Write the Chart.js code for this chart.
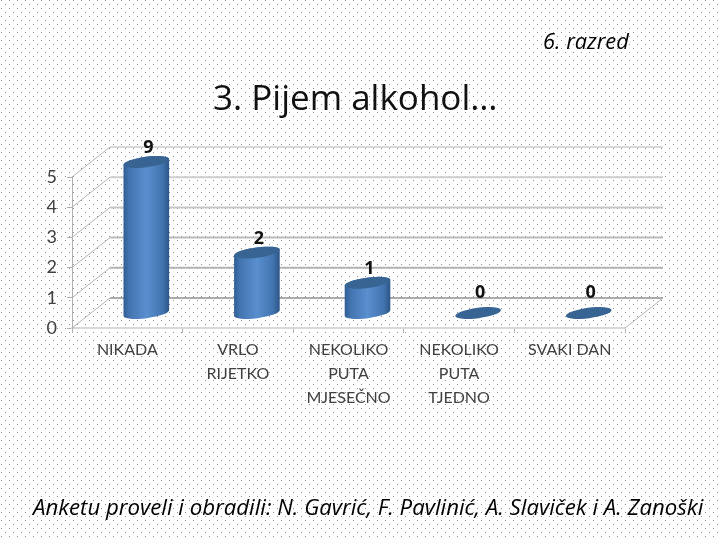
<!DOCTYPE html>
<html>
<head>
<meta charset="utf-8">
<style>
html,body{margin:0;padding:0;width:720px;height:540px;overflow:hidden;background-color:#fff;}
#wrap{position:relative;width:720px;height:540px;}
canvas{position:absolute;left:0;top:0;}
.t{position:absolute;white-space:nowrap;color:#000;font-family:"Open Sans",sans-serif;line-height:1;}
#title{left:213px;top:79px;font-size:35px;color:#111;}
#grade{left:543px;top:30px;font-size:21.8px;font-style:italic;}
#foot{left:33px;top:496px;font-size:22.2px;font-style:italic;}
</style>
<script src="https://cdn.jsdelivr.net/npm/chart.js@4"></script>
</head>
<body>
<div id="wrap">
<canvas id="c" width="720" height="540"></canvas>
<div class="t" id="grade">6. razred</div>
<div class="t" id="title">3. Pijem alkohol…</div>
<div class="t" id="foot">Anketu proveli i obradili: N. Gavrić, F. Pavlinić, A. Slaviček i A. Zanoški</div>
</div>
<script>
const categories = [
  ["NIKADA"],
  ["VRLO", "RIJETKO"],
  ["NEKOLIKO", "PUTA", "MJESEČNO"],
  ["NEKOLIKO", "PUTA", "TJEDNO"],
  ["SVAKI DAN"]
];
const answers = [9, 2, 1, 0, 0];
const yTicks = [0, 1, 2, 3, 4, 5];

// dotted slide background
(function () {
  const p = document.createElement('canvas');
  p.width = 8; p.height = 8;
  const g = p.getContext('2d');
  g.fillStyle = '#fff'; g.fillRect(0, 0, 8, 8);
  g.fillStyle = '#8c8c8c';
  g.fillRect(1, 0, 1, 1);
  g.fillRect(5, 4, 1, 1);
  document.body.style.backgroundImage = 'url(' + p.toDataURL() + ')';
})();

const DX = 38, DY = -30;

const wall3d = {
  id: 'wall3d',
  beforeDatasetsDraw(chart) {
    const { ctx, scales: { x, y } } = chart;
    const L = x.left, R = x.right;
    ctx.save();
    yTicks.forEach(v => {
      const py = y.getPixelForValue(v);
      const f = v / 5;
      const shade = Math.round(170 + f * 46);
      ctx.strokeStyle = `rgb(${shade},${shade},${shade})`;
      ctx.lineWidth = 2;
      ctx.beginPath();
      ctx.moveTo(L + DX, py + DY);
      ctx.lineTo(R + DX, py + DY);
      ctx.stroke();
      ctx.strokeStyle = '#b4b4b4';
      ctx.lineWidth = 1;
      ctx.beginPath();
      ctx.moveTo(L, py);
      ctx.lineTo(L + DX, py + DY);
      ctx.stroke();
    });
    const p0 = y.getPixelForValue(0);
    ctx.beginPath();
    ctx.moveTo(R, p0);
    ctx.lineTo(R + DX, p0 + DY);
    ctx.stroke();
    ctx.restore();
  },
  beforeDatasetDraw(chart, args) {
    const { ctx, scales: { y } } = chart;
    const meta = args.meta;
    const vals = chart.data.datasets[args.index].data;
    const rot = -7.5 * Math.PI / 180;
    const ry = 5.2;
    ctx.save();
    meta.data.forEach((el, i) => {
      const rx = el.width / 2;
      const cx = el.x + DX / 2;
      const bot = y.getPixelForValue(0) + DY / 2;
      const top = y.getPixelForValue(Math.min(vals[i], y.max)) + DY / 2;
      if (top < bot - 0.5) {
        const g = ctx.createLinearGradient(cx - rx, 0, cx + rx, 0);
        g.addColorStop(0, '#2f5c92');
        g.addColorStop(0.12, '#4173ae');
        g.addColorStop(0.5, '#5a8fd0');
        g.addColorStop(0.85, '#4174ae');
        g.addColorStop(1, '#2c5486');
        ctx.fillStyle = g;
        ctx.beginPath();
        ctx.ellipse(cx, bot, rx, ry, rot, 0, Math.PI);
        ctx.ellipse(cx, top, rx, ry, rot, Math.PI, 2 * Math.PI);
        ctx.closePath();
        ctx.fill();
      }
      ctx.fillStyle = '#376493';
      ctx.beginPath();
      ctx.ellipse(cx, top, rx, ry, rot, 0, 2 * Math.PI);
      ctx.fill();
    });
    ctx.restore();
    return false;
  },
  afterDatasetsDraw(chart) {
    const { ctx, scales: { y } } = chart;
    const meta = chart.getDatasetMeta(0);
    const vals = chart.data.datasets[0].data;
    ctx.save();
    ctx.font = 'bold 18px "Open Sans", sans-serif';
    ctx.fillStyle = '#111';
    ctx.textAlign = 'center';
    ctx.textBaseline = 'middle';
    meta.data.forEach((el, i) => {
      const top = y.getPixelForValue(Math.min(vals[i], y.max)) + DY / 2;
      ctx.fillText(String(vals[i]), el.x + DX / 2 + 2, top - (vals[i] === 0 ? 20 : 14));
    });
    ctx.restore();
  }
};

new Chart(document.getElementById('c'), {
  type: 'bar',
  data: {
    labels: categories,
    datasets: [{
      label: '3. Pijem alkohol…',
      data: answers,
      backgroundColor: '#4f81bd',
      barPercentage: 0.416,
      categoryPercentage: 1
    }]
  },
  plugins: [wall3d],
  options: {
    responsive: false,
    animation: false,
    layout: { padding: { left: 36, right: 95, top: 177, bottom: 122 } },
    plugins: { legend: { display: false }, tooltip: { enabled: false }, title: { display: false } },
    scales: {
      x: {
        offset: true,
        border: { color: '#d8d8d8', width: 2 },
        grid: { drawOnChartArea: false, drawTicks: true, tickLength: 5, color: '#b0b0b0' },
        ticks: {
          color: '#404040', maxRotation: 0, minRotation: 0, autoSkip: false, padding: 5,
          font: { family: 'Lato, "Open Sans", sans-serif', size: 16, lineHeight: 1.5 }
        },
        afterFit(s) { s.height = 90; }
      },
      y: {
        min: 0, max: 5,
        border: { color: '#b0b0b0', width: 1 },
        grid: { drawOnChartArea: false, drawTicks: true, tickLength: 5, color: '#b0b0b0' },
        ticks: {
          stepSize: 1, color: '#404040', padding: 10,
          font: { family: 'Lato, "Open Sans", sans-serif', size: 18 }
        },
        afterFit(s) { s.width = 36; }
      }
    }
  }
});
</script>
</body>
</html>
